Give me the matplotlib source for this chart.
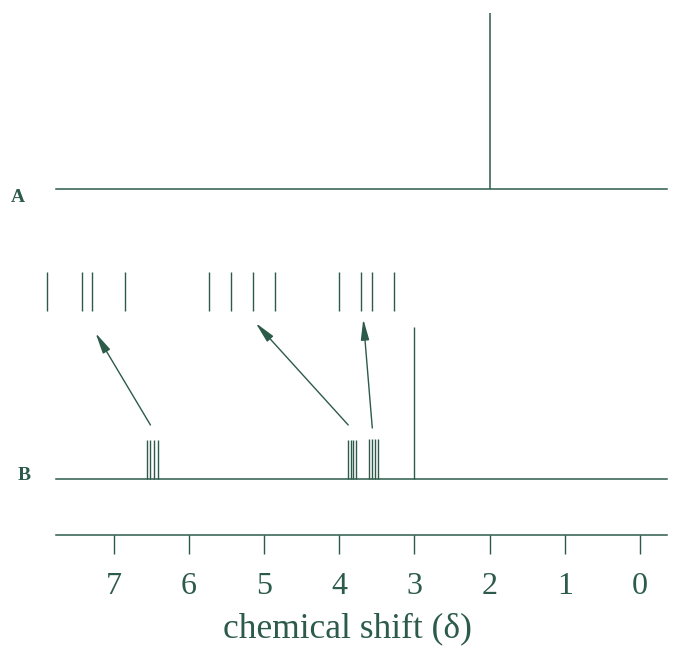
import matplotlib
matplotlib.use("Agg")
import matplotlib.pyplot as plt

# colours / fonts
GREEN = "#2c5b4a"
plt.rcParams["font.family"] = ["Liberation Serif", "DejaVu Serif"]

# ---- data (chemical shift in ppm) ----
shift_min, shift_max = -0.36, 7.77

# spectrum A: single peak
peaks_A = [2.0]
heights_A = [176]

# spectrum B: singlet plus three small multiplets
peaks_B = [6.56, 6.51, 6.46, 6.41,
           3.88, 3.84, 3.81, 3.77,
           3.60, 3.56, 3.52, 3.48,
           3.0]
heights_B = [39, 39, 39, 39,
             39, 39, 39, 39,
             40, 40, 40, 40,
             152]

# expanded multiplets drawn above spectrum B
expanded = [7.88, 7.42, 7.29, 6.85,
            5.73, 5.44, 5.14, 4.86,
            4.00, 3.71, 3.56, 3.27]

# arrows: (from shift, to shift)
arrows = [(6.51, 7.24), (3.88, 5.11), (3.56, 3.68)]
arrow_y = [(110, 202), (110, 212), (107, 216)]

ticks = [7, 6, 5, 4, 3, 2, 1, 0]

# vertical layout
base_A = 346
base_B = 56
exp_lo, exp_hi = 224, 263

fig = plt.figure(figsize=(6.95, 6.48), dpi=100)
ax = fig.add_axes([0, 1 - 535 / 648, 1, 535 / 648])
ax.set_xlim((640 - 0) / 75.2, (640 - 695) / 75.2)
ax.set_ylim(0, 535)

# baselines
ax.plot([shift_max, shift_min], [base_A, base_A], color=GREEN, lw=1.1)
ax.plot([shift_max, shift_min], [base_B, base_B], color=GREEN, lw=1.1)

# spectrum A
ax.vlines(peaks_A, base_A, [base_A + h for h in heights_A], color=GREEN, lw=1.1)
# spectrum B
ax.vlines(peaks_B, base_B, [base_B + h for h in heights_B], color=GREEN, lw=1.0)
# expansions
ax.vlines(expanded, exp_lo, exp_hi, color=GREEN, lw=1.0)

for (x0, x1), (y0, y1) in zip(arrows, arrow_y):
    ax.annotate("", xy=(x1, y1), xytext=(x0, y0),
                arrowprops=dict(arrowstyle="-|>,head_width=0.18,head_length=0.9",
                                color=GREEN, lw=1.0, shrinkA=0, shrinkB=0,
                                mutation_scale=14))

ax.text(8.27, 338, "A", color=GREEN, fontsize=14, fontweight="bold",
        ha="center", va="center")
ax.text(8.19, 60, "B", color=GREEN, fontsize=14, fontweight="bold",
        ha="center", va="center")

# axis
for s in ["top", "left", "right"]:
    ax.spines[s].set_visible(False)
ax.spines["bottom"].set_color(GREEN)
ax.spines["bottom"].set_linewidth(1.1)
ax.spines["bottom"].set_bounds(shift_min, shift_max)
ax.set_yticks([])
ax.set_xticks(ticks)
ax.set_xticklabels([str(t) for t in ticks])
ax.tick_params(axis="x", direction="out", length=13.5, width=1.0, color=GREEN,
               labelcolor=GREEN, labelsize=23, pad=13)
ax.set_xlabel("chemical shift (δ)", color=GREEN, fontsize=25.5, labelpad=8)

fig.savefig("out.png", dpi=100)
